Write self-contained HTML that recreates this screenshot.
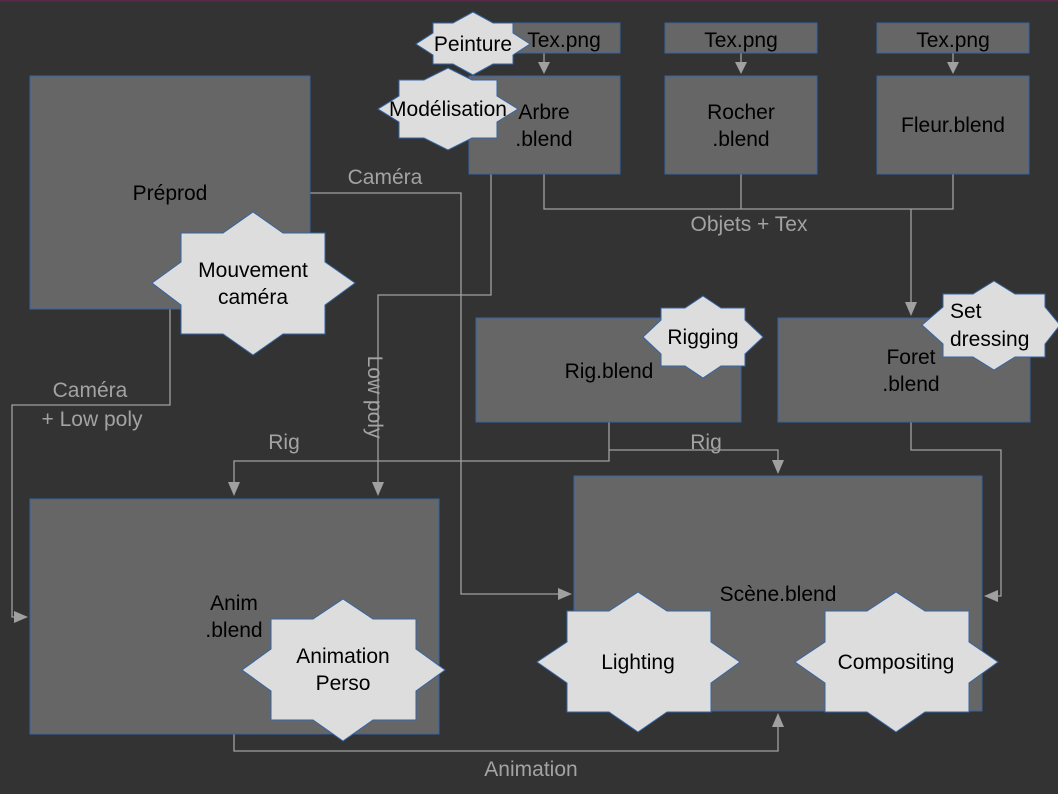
<!DOCTYPE html>
<html><head><meta charset="utf-8"><style>
html,body{margin:0;padding:0;background:#333;}
svg{display:block;}
text{font-family:"Liberation Sans",sans-serif;font-size:21px;}
.n{fill:#000;text-anchor:middle;}
.l{fill:#a3a3a3;text-anchor:middle;}
.r{fill:#666;stroke:#3465a4;stroke-width:1;}
.s{fill:#dddddd;stroke:#3465a4;stroke-width:1;}
.c{fill:none;stroke:#a0a0a0;stroke-width:1.3;}
.a{fill:#a0a0a0;}
</style></head><body>
<svg width="1058" height="794" viewBox="0 0 1058 794" xmlns="http://www.w3.org/2000/svg">
<rect x="0" y="0" width="1058" height="794" fill="#333"/>
<rect x="0" y="0" width="1058" height="1.5" fill="#5a2a4a"/>

<!-- connectors -->
<path class="c" d="M544,53V68M741,53V68M953,53V68"/>
<path class="a" d="M538,62h12l-6,12zM735,62h12l-6,12zM947,62h12l-6,12z"/>
<path class="c" d="M544,174V209H953V174M741,174V209M911,209V306"/>
<path class="a" d="M905,302h12l-6,14z"/>
<path class="c" d="M310,193H461V594H562"/>
<path class="a" d="M558,588v12l14,-6z"/>
<path class="c" d="M491,174V295H378V486"/>
<path class="a" d="M372,482h12l-6,14z"/>
<path class="c" d="M170,309V405H12V617H18"/>
<path class="a" d="M14,611v12l14,-6z"/>
<path class="c" d="M609,422V461H234V486M609,450H778V462"/>
<path class="a" d="M228,482h12l-6,14zM772,460h12l-6,14z"/>
<path class="c" d="M911,422V450H1001V596H994"/>
<path class="a" d="M998,590v12l-14,-6z"/>
<path class="c" d="M234,734V751H778V724"/>
<path class="a" d="M772,727h12l-6,-14z"/>

<!-- rectangles -->
<rect class="r" x="30" y="76" width="280" height="233"/>
<rect class="r" x="468" y="23" width="152" height="30"/>
<rect class="r" x="665" y="23" width="152" height="30"/>
<rect class="r" x="877" y="23" width="152" height="30"/>
<rect class="r" x="469" y="76" width="151" height="98"/>
<rect class="r" x="665" y="76" width="152" height="98"/>
<rect class="r" x="877" y="76" width="152" height="98"/>
<rect class="r" x="476" y="318" width="265" height="104"/>
<rect class="r" x="778" y="318" width="252" height="104"/>
<rect class="r" x="30" y="499" width="409" height="235"/>
<rect class="r" x="574" y="476" width="408" height="235"/>

<text class="n" x="170" y="200">Préprod</text>
<text class="n" x="564" y="47">Tex.png</text>
<text class="n" x="741" y="47">Tex.png</text>
<text class="n" x="953" y="47">Tex.png</text>
<text class="n" x="544" y="119">Arbre</text>
<text class="n" x="544" y="146">.blend</text>
<text class="n" x="741" y="119">Rocher</text>
<text class="n" x="741" y="146">.blend</text>
<text class="n" x="953" y="132">Fleur.blend</text>
<text class="n" x="609" y="378">Rig.blend</text>
<text class="n" x="911" y="364">Foret</text>
<text class="n" x="911" y="391">.blend</text>
<text class="n" x="234" y="610">Anim</text>
<text class="n" x="234" y="637">.blend</text>
<text class="n" x="778" y="601">Scène.blend</text>

<!-- labels -->
<text class="l" x="385" y="184">Caméra</text>
<text class="l" x="749" y="231">Objets + Tex</text>
<text class="l" x="90" y="397">Caméra</text>
<text class="l" x="92" y="426">+ Low poly</text>
<text class="l" x="284" y="449">Rig</text>
<text class="l" x="706" y="449">Rig</text>
<text class="l" x="531" y="776">Animation</text>
<text class="l" transform="translate(368,397) rotate(90)" x="0" y="0">Low poly</text>

<!-- stars -->
<g id="stars"></g>
<polygon class="s" points="473,12 493,23 513,23 513,33 530,44 513,55 513,64 493,64 473,75 453,64 433,64 433,55 416,44 433,33 433,23 453,23"/>
<text class="n" x="473" y="51">Peinture</text>
<polygon class="s" points="448,68 472,80 497,80 497,96 518,109 497,122 497,138 472,138 448,150 424,138 399,138 399,122 378,109 399,96 399,80 424,80"/>
<text class="n" x="448" y="116">Modélisation</text>
<polygon class="s" points="253,212 283,233 325,233 325,262 355,283 325,305 325,334 283,334 253,355 223,334 181,334 181,305 152,283 181,262 181,233 223,233"/>
<text class="n" x="253" y="277">Mouvement</text>
<text class="n" x="253" y="304">caméra</text>
<polygon class="s" points="703,296 721,308 745,308 745,320 763,337 745,354 745,366 721,366 703,378 685,366 661,366 661,354 643,337 661,320 661,308 685,308"/>
<text class="n" x="703" y="344">Rigging</text>
<polygon class="s" points="994,281 1015,294 1045,294 1045,307 1060,325 1045,344 1045,357 1015,357 994,370 973,357 943,357 943,344 922,325 943,307 943,294 973,294"/>
<text class="n" x="950" y="318" style="text-anchor:start">Set</text>
<text class="n" x="950" y="346" style="text-anchor:start">dressing</text>
<polygon class="s" points="343,599 373,619 416,619 416,649 445,670 416,691 416,720 373,720 343,741 313,720 271,720 271,691 242,670 271,649 271,619 313,619"/>
<text class="n" x="343" y="663">Animation</text>
<text class="n" x="343" y="690">Perso</text>
<polygon class="s" points="638,592 667,611 711,611 711,642 740,662 711,683 711,712 667,712 638,732 609,712 567,712 567,683 537,662 567,642 567,611 609,611"/>
<text class="n" x="638" y="669">Lighting</text>
<polygon class="s" points="896,592 925,611 969,611 969,642 998,662 969,683 969,712 925,712 896,732 867,712 825,712 825,683 795,662 825,642 825,611 867,611"/>
<text class="n" x="896" y="669">Compositing</text>
</svg>
</body></html>
